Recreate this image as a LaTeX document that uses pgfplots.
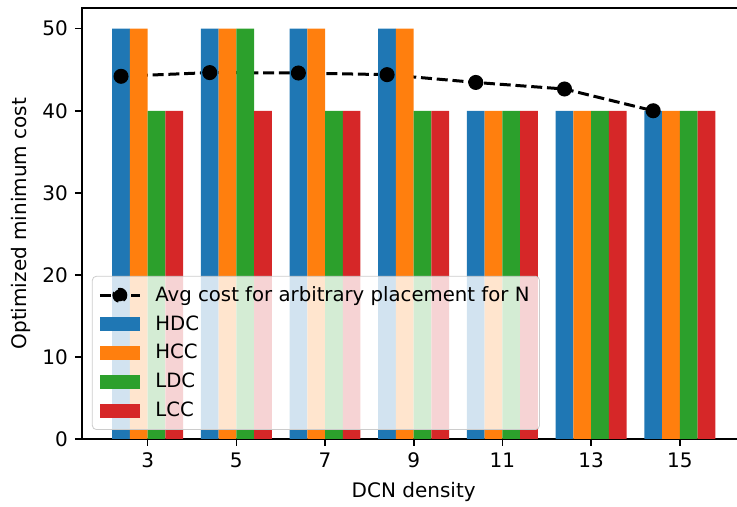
\documentclass[border=0pt]{standalone}
\usepackage{pgfplots}
\pgfplotsset{compat=1.18}
\usepackage{fontspec}
\setmainfont{DejaVu Sans}

\definecolor{tabblue}{HTML}{1F77B4}
\definecolor{taborange}{HTML}{FF7F0E}
\definecolor{tabgreen}{HTML}{2CA02C}
\definecolor{tabred}{HTML}{D62728}

\pgfplotsset{
  barlegend/.style={legend image code/.code={%
      \fill[##1, fill opacity=1, draw=none, sharp corners] (0pt,-3.5pt) rectangle (20pt,3.5pt);}},
  linelegend/.style={legend image code/.code={%
      \draw[##1, draw opacity=1, sharp corners] (0pt,0pt) -- (20pt,0pt);
      \fill[black, fill opacity=1] (10pt,0pt) circle (3pt);}},
}

\begin{document}
\begin{tikzpicture}
\useasboundingbox (-41pt,-34pt) rectangle (327.5pt,219.5pt);
\clip (-41pt,-34pt) rectangle (327.5pt,219.5pt);
\begin{axis}[
  scale only axis,
  width=331.7pt, height=215.4pt,
  xmin=-0.74, xmax=6.74,
  ymin=0, ymax=52.5,
  xtick={0,1,2,3,4,5,6},
  xticklabels={3,5,7,9,11,13,15},
  ytick={0,10,20,30,40,50},
  tick align=outside,
  tick pos=left,
  major tick length=3.5pt,
  every tick/.style={black, line width=0.8pt},
  axis line style={line width=0.8pt},
  /pgf/number format/assume math mode=true,
  tick label style={font=\fontsize{10}{12}\selectfont},
  label style={font=\fontsize{10}{12}\selectfont},
  xlabel={DCN density},
  ylabel={Optimized minimum cost},
  xlabel style={at={(0.5,0)}, anchor=north, yshift=-18pt},
  ylabel style={at={(0,0.5)}, anchor=south, yshift=22pt},
  legend cell align=left,
  legend style={
    at={(0.015,0.021)}, anchor=south west,
    font=\fontsize{9.85}{11.5}\selectfont,
    fill=white, fill opacity=0.8, draw opacity=1, text opacity=1,
    draw={rgb,255:red,204;green,204;blue,204}, rounded corners=2pt,
    inner xsep=3pt, inner ysep=3pt,
    row sep=1.6pt,
    /tikz/every odd column/.append style={column sep=5pt},
    /tikz/every even column/.append style={column sep=0pt},
  },
]
% average cost of an arbitrary placement
\addplot[black, line width=1.5pt, dash pattern=on 5.5pt off 2.4pt,
  mark=*, mark size=3pt, mark options={solid}, linelegend]
  coordinates {(-0.3,44.2) (0.7,44.65) (1.7,44.6) (2.7,44.4) (3.7,43.45) (4.7,42.65) (5.7,40.0)};
\addlegendentry{Avg cost for arbitrary placement for N}

\addplot[ybar, bar width=0.2, bar shift=-0.3, fill=tabblue, draw=none, barlegend]
  coordinates {(0,50) (1,50) (2,50) (3,50) (4,40) (5,40) (6,40)};
\addlegendentry{HDC}
\addplot[ybar, bar width=0.2, bar shift=-0.1, fill=taborange, draw=none, barlegend]
  coordinates {(0,50) (1,50) (2,50) (3,50) (4,40) (5,40) (6,40)};
\addlegendentry{HCC}
\addplot[ybar, bar width=0.2, bar shift=0.1, fill=tabgreen, draw=none, barlegend]
  coordinates {(0,40) (1,50) (2,40) (3,40) (4,40) (5,40) (6,40)};
\addlegendentry{LDC}
\addplot[ybar, bar width=0.2, bar shift=0.3, fill=tabred, draw=none, barlegend]
  coordinates {(0,40) (1,40) (2,40) (3,40) (4,40) (5,40) (6,40)};
\addlegendentry{LCC}
\end{axis}
\end{tikzpicture}
\end{document}
